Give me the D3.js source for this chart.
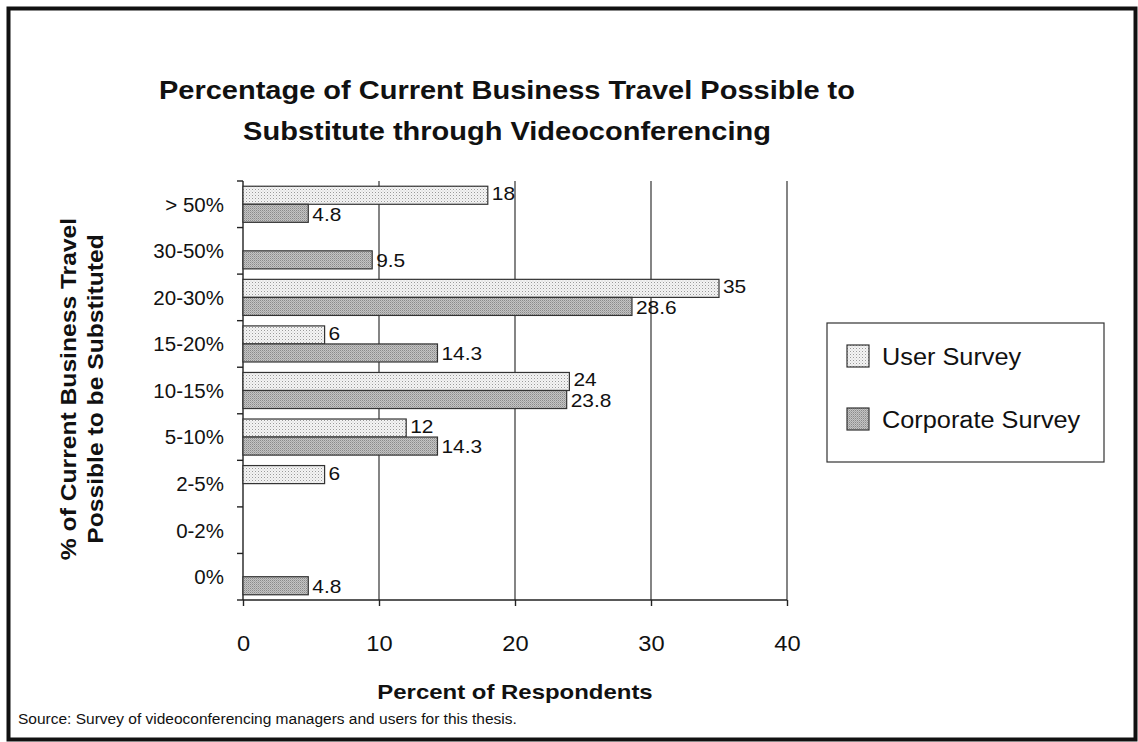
<!DOCTYPE html>
<html>
<head>
<meta charset="utf-8">
<script src="https://cdn.jsdelivr.net/npm/d3@7"></script>
<style>
  html, body { margin: 0; padding: 0; background: #fff; }
  svg text { font-family: "Liberation Sans", Arial, Helvetica, sans-serif; fill: #111; }
</style>
</head>
<body>
<svg id="chart" width="1138" height="742"></svg>
<script>
// Survey categories (top to bottom) and responses per survey, in percent
const categories = ["> 50%", "30-50%", "20-30%", "15-20%", "10-15%", "5-10%", "2-5%", "0-2%", "0%"];
const seriesNames = ["User Survey", "Corporate Survey"];
const userSurvey      = [18, null, 35, 6, 24, 12, 6, null, null];
const corporateSurvey = [4.8, 9.5, 28.6, 14.3, 23.8, 14.3, null, null, 4.8];
const xTicks = [0, 10, 20, 30, 40];

const titleLines = ["Percentage of Current Business Travel Possible to",
                    "Substitute through Videoconferencing"];
const yTitleLines = ["% of Current Business Travel", "Possible to be Substituted"];
const xTitle = "Percent of Respondents";
const sourceNote = "Source: Survey of videoconferencing managers and users for this thesis.";

const svg = d3.select("#chart");
const W = 1138, H = 742;
const plot = { left: 243, right: 787, top: 181, bottom: 600 };

// widen glyphs horizontally, like the original wide sans face
function stretch(sel, k) {
  sel.each(function () {
    const len = this.getComputedTextLength();
    this.setAttribute("textLength", len * k);
    this.setAttribute("lengthAdjust", "spacingAndGlyphs");
  });
}

// fill patterns: light stipple for users, darker stipple for corporate
const defs = svg.append("defs");
const pUser = defs.append("pattern").attr("id", "pat-user")
  .attr("width", 3).attr("height", 3).attr("patternUnits", "userSpaceOnUse");
pUser.append("rect").attr("width", 3).attr("height", 3).attr("fill", "#f4f4f4");
pUser.append("rect").attr("width", 1).attr("height", 1).attr("fill", "#9a9a9a");
pUser.append("rect").attr("x", 1.5).attr("y", 1.5).attr("width", 1).attr("height", 1).attr("fill", "#c8c8c8");

const pCorp = defs.append("pattern").attr("id", "pat-corp")
  .attr("width", 2).attr("height", 2).attr("patternUnits", "userSpaceOnUse");
pCorp.append("rect").attr("width", 2).attr("height", 2).attr("fill", "#c4c4c4");
pCorp.append("rect").attr("width", 1).attr("height", 1).attr("fill", "#8a8a8a");
pCorp.append("rect").attr("x", 1).attr("y", 1).attr("width", 1).attr("height", 1).attr("fill", "#a6a6a6");

const fills = { "User Survey": "url(#pat-user)", "Corporate Survey": "url(#pat-corp)" };

// background and frame
svg.append("rect").attr("width", W).attr("height", H).attr("fill", "#fff");
svg.append("rect").attr("x", 8.5).attr("y", 8.5).attr("width", 1127).attr("height", 731)
  .attr("fill", "none").attr("stroke", "#111").attr("stroke-width", 4);

// scales
const x = d3.scaleLinear().domain([0, 40]).range([plot.left, plot.right]);
const y = d3.scaleBand().domain(categories).range([plot.top, plot.bottom]).padding(0);
const ySub = d3.scaleBand().domain(seriesNames).range([0, y.bandwidth()])
  .paddingInner(0).paddingOuter(0.29);

// vertical gridlines
svg.append("g").selectAll("line").data(xTicks.filter(d => d > 0)).join("line")
  .attr("x1", d => x(d)).attr("x2", d => x(d))
  .attr("y1", plot.top).attr("y2", plot.bottom)
  .attr("stroke", "#333").attr("stroke-width", 1.2);

// x axis
const xAxis = svg.append("g").attr("transform", `translate(0,${plot.bottom})`)
  .call(d3.axisBottom(x).tickValues(xTicks).tickSize(6).tickPadding(30).tickFormat(d3.format("d")));
xAxis.select(".domain").attr("stroke", "#222").attr("stroke-width", 1.4)
  .attr("d", `M${plot.left},0H${plot.right}`);
xAxis.selectAll(".tick line").attr("stroke", "#222").attr("stroke-width", 1.4);
const xTickText = xAxis.selectAll(".tick text").attr("font-size", 21.5).attr("fill", "#111")
  .attr("font-family", "Liberation Sans, Arial, sans-serif");

// y axis: ticks at category boundaries
const yAxis = svg.append("g").attr("transform", `translate(${plot.left},0)`);
yAxis.append("line").attr("x1", 0).attr("x2", 0).attr("y1", plot.top).attr("y2", plot.bottom)
  .attr("stroke", "#222").attr("stroke-width", 1.4);
const bounds = categories.map(c => y(c)).concat([plot.bottom]);
yAxis.selectAll("line.tk").data(bounds).join("line").attr("class", "tk")
  .attr("x1", -6).attr("x2", 0).attr("y1", d => d).attr("y2", d => d)
  .attr("stroke", "#222").attr("stroke-width", 1.4);
const catText = yAxis.selectAll("text").data(categories).join("text")
  .attr("x", -19).attr("y", d => y(d) + y.bandwidth() / 2)
  .attr("dy", "0.36em").attr("text-anchor", "end").attr("font-size", 20.5)
  .text(d => d);

// bars
const rows = [];
categories.forEach((c, i) => {
  rows.push({ cat: c, series: "User Survey", value: userSurvey[i] });
  rows.push({ cat: c, series: "Corporate Survey", value: corporateSurvey[i] });
});
const valued = rows.filter(r => r.value != null);

svg.append("g").selectAll("rect").data(valued).join("rect")
  .attr("x", x(0))
  .attr("y", d => y(d.cat) + ySub(d.series))
  .attr("width", d => x(d.value) - x(0))
  .attr("height", ySub.bandwidth())
  .attr("fill", d => fills[d.series])
  .attr("stroke", "#333").attr("stroke-width", 1.2);

// value labels at the bar ends
const vLabels = svg.append("g").selectAll("text").data(valued).join("text")
  .attr("x", d => x(d.value) + 4)
  .attr("y", d => y(d.cat) + ySub(d.series) + ySub.bandwidth() / 2)
  .attr("dy", d => d.series === "User Survey" ? "0.26em" : "0.38em")
  .attr("font-size", 19)
  .text(d => d3.format("")(d.value));

// title
const title = svg.append("g").selectAll("text").data(titleLines).join("text")
  .attr("x", 507).attr("y", (d, i) => 99 + i * 41)
  .attr("text-anchor", "middle").attr("font-size", 26).attr("font-weight", "bold")
  .text(d => d);

// y axis title, two rotated lines
const yTitle = svg.append("g").selectAll("text").data(yTitleLines).join("text")
  .attr("transform", (d, i) => `translate(${76 + i * 27},389) rotate(-90)`)
  .attr("text-anchor", "middle").attr("font-size", 22).attr("font-weight", "bold")
  .text(d => d);

// x axis title
const xT = svg.append("text").attr("x", 515).attr("y", 699)
  .attr("text-anchor", "middle").attr("font-size", 21).attr("font-weight", "bold")
  .text(xTitle);

// source note
const src = svg.append("text").attr("x", 18).attr("y", 724).attr("font-size", 15.5).text(sourceNote);

// legend
const legend = svg.append("g").attr("transform", "translate(827,323)");
legend.append("rect").attr("width", 277).attr("height", 139)
  .attr("fill", "#fff").attr("stroke", "#333").attr("stroke-width", 1.2);
const li = legend.selectAll("g").data(seriesNames).join("g")
  .attr("transform", (d, i) => `translate(20,${22 + i * 63})`);
li.append("rect").attr("width", 22).attr("height", 22)
  .attr("fill", d => fills[d]).attr("stroke", "#333").attr("stroke-width", 1.2);
const lText = li.append("text").attr("x", 35).attr("y", 12).attr("dy", "0.36em")
  .attr("font-size", 23).text(d => d);

// horizontal widening per text group
stretch(title, 1.115);
stretch(yTitle, 1.12);
stretch(xT, 1.14);
stretch(xTickText, 1.1);
stretch(catText, 1.0);
stretch(vLabels, 1.1);
stretch(lText, 1.1);
stretch(src, 1.0);
</script>
</body>
</html>
